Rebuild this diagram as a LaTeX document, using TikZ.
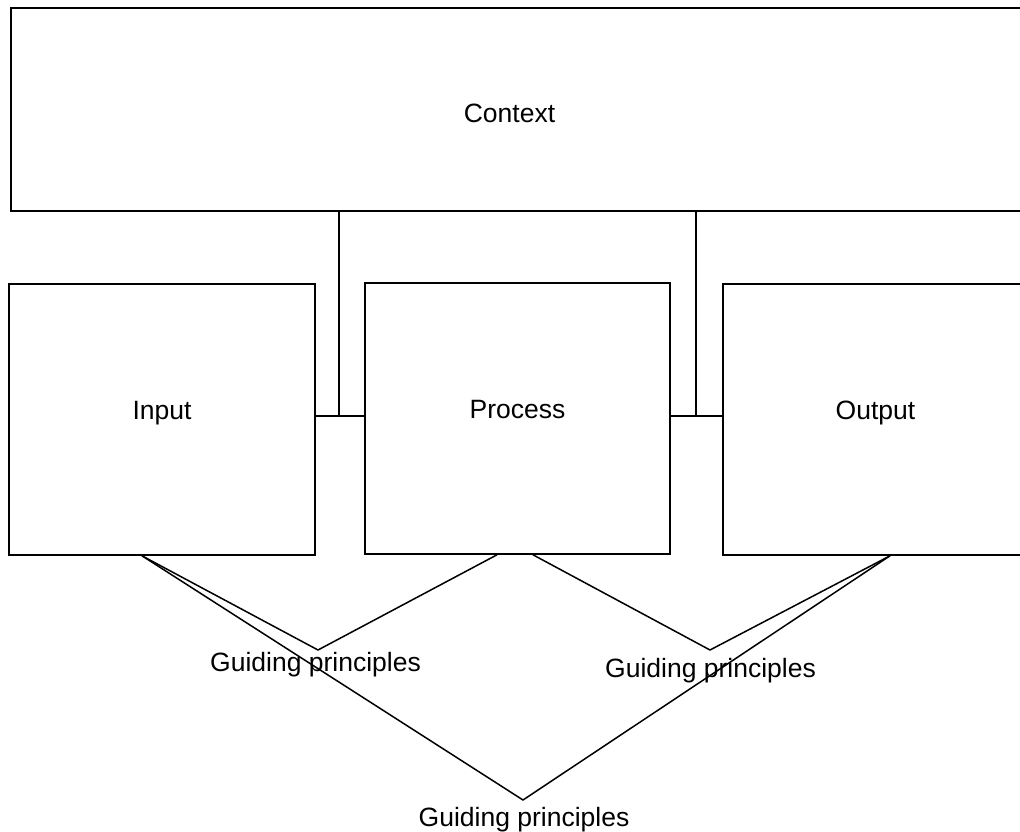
\documentclass[tikz,border=0pt]{standalone}
\usepackage{fontspec}
\setmainfont{Liberation Sans}
\begin{document}
\begin{tikzpicture}[x=1pt,y=-1pt,
  box/.style={draw=black, line width=1.6pt, rectangle, inner sep=0pt, fill=none,
    font=\fontsize{26.5}{32}\selectfont, text height=10pt, text depth=10pt},
  lbl/.style={inner sep=0pt, font=\fontsize{26.5}{32}\selectfont, anchor=base},
  conn/.style={draw=black, line width=1.5pt}]
\useasboundingbox (0,0) rectangle (1020,832);
\fill[white] (0,0) rectangle (1020,832);
\clip (0,0) rectangle (1020,832);

% boxes
\node[box, minimum width=1030pt, minimum height=203pt] (context) at (526,109.5) {};
\node[lbl] (contextlbl) at (509.5,123) {Context};
\node[box, minimum width=306pt, minimum height=271pt] (input) at (162,419.5) {Input};
\node[box, minimum width=305pt, minimum height=271pt] (process) at (517.5,418.5) {Process};
\node[box, minimum width=305pt, minimum height=271pt] (output) at (875.5,419.5) {Output};

% junctions
\coordinate (j1) at (339,416);
\coordinate (j2) at (696,416);
\draw[conn] (context.south -| j1) -- (j1);
\draw[conn] (input.east |- j1) -- (process.west |- j1);
\draw[conn] (context.south -| j2) -- (j2);
\draw[conn] (process.east |- j2) -- (output.west |- j2);

% attachment abscissae
\coordinate (xi) at (142,0);
\coordinate (xp1) at (497,0);
\coordinate (xp2) at (533,0);
\coordinate (xo) at (890,0);

% apexes
\coordinate (a1) at (318,650);
\coordinate (a2) at (710,650);
\coordinate (a3) at (523,800);

\draw[conn] (input.south -| xi) -- (a1) -- (process.south -| xp1);
\draw[conn] (process.south -| xp2) -- (a2) -- (output.south -| xo);
\draw[conn] (input.south -| xi) -- (a3) -- (output.south -| xo);

% labels
\node[lbl] (g1) at (315.5,671.5) {Guiding principles};
\node[lbl] (g2) at (710.5,677) {Guiding principles};
\node[lbl] (g3) at (524,826) {Guiding principles};
\end{tikzpicture}
\end{document}
